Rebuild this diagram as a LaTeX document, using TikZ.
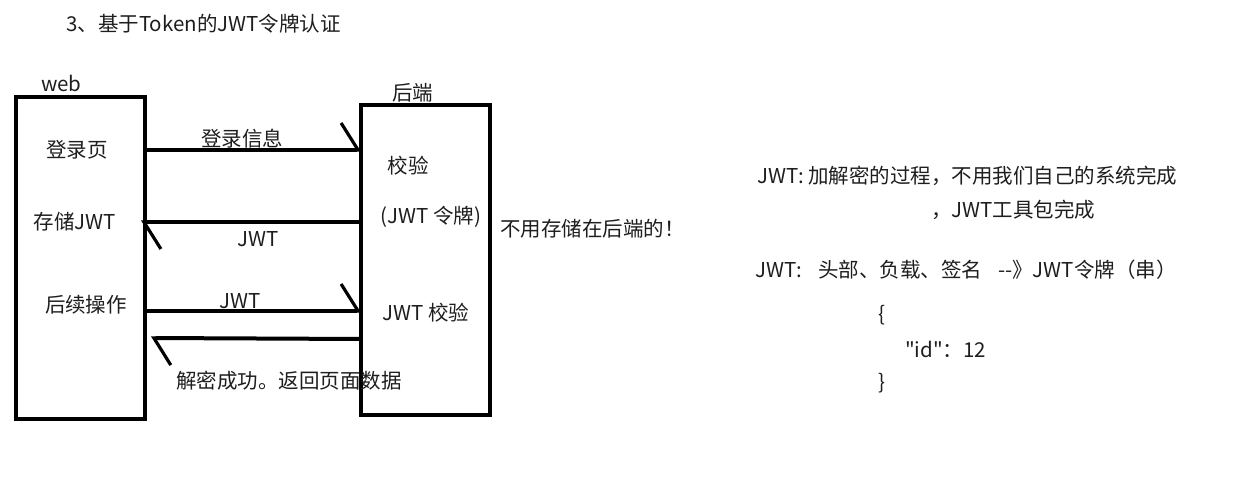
\documentclass[tikz,border=0pt]{standalone}
\usepackage{fontspec}
\setmainfont{Noto Sans CJK SC}[Ligatures=TeXOff]
\usetikzlibrary{arrows.meta}
\definecolor{ink}{HTML}{1E1E1E}
\begin{document}
\begin{tikzpicture}[x=1pt,y=1pt,
  txt/.style={inner sep=0pt,text=ink,font=\fontsize{20.5}{24}\selectfont},
  lane/.style={draw=black,line width=4pt},
  msg/.style={draw=black,line width=4pt,-{Straight Barb[left,length=17pt,width=54pt,line width=3.2pt]}}]
\useasboundingbox[fill=white] (0,0) rectangle (1240,498);
% title
\node[txt,anchor=west] (title) at (66,474) {3、基于Token的JWT令牌认证};
% boxes
\node[txt,anchor=west] (weblbl) at (41,415) {web};
\node[txt,anchor=west] (belbl) at (392,405) {后端};
\draw[lane] (16,79) rectangle (145,401);
\draw[lane] (361,83) rectangle (490,393);
\coordinate (w1) at (145,348);
\coordinate (b1) at (361,348);
\coordinate (b2) at (361,276);
\coordinate (w2) at (141,276);
\coordinate (w3) at (145,187);
\coordinate (b3) at (361,187);
\coordinate (b4) at (361,159);
\coordinate (w4) at (151,160);
% web texts
\node[txt] (login) at (77,348) {登录页};
\node[txt] (store) at (75,276) {存储JWT};
\node[txt] (follow) at (86,193) {后续操作};
% backend texts
\node[txt] (check) at (408,332) {校验};
\node[txt] (token) at (431,281) {(JWT 令牌)};
\node[txt] (jcheck) at (426,185) {JWT 校验};
\node[txt,anchor=west] (nostore) at (500,269) {不用存储在后端的！};
% messages
\draw[msg] (w1) -- (b1);
\node[txt] (m1) at (242,359) {登录信息};
\draw[msg] (b2) -- (w2);
\node[txt] (m2) at (258,259) {JWT};
\draw[msg] (w3) -- (b3);
\node[txt] (m3) at (240,197) {JWT};
\draw[msg] (b4) -- (w4);
\node[txt,anchor=west] (m4) at (176,117) {解密成功。返回页面数据};
% right notes
\node[txt,anchor=west] (r1) at (757,322) {JWT: 加解密的过程，不用我们自己的系统完成};
\node[txt,anchor=west] (r2) at (931,288) {，JWT工具包完成};
\node[txt,anchor=west] (r3a) at (755,228) {JWT:};
\node[txt,anchor=west] (r3b) at (818,228) {头部、负载、签名};
\node[txt,anchor=west] (r3c) at (998,228) {--》JWT令牌（串）};
\node[txt,anchor=west] (br1) at (878,183) {\{};
\node[txt,anchor=west] (idl) at (905,149) {"id"：12};
\node[txt,anchor=west] (br2) at (878,115) {\}};
\end{tikzpicture}
\end{document}
